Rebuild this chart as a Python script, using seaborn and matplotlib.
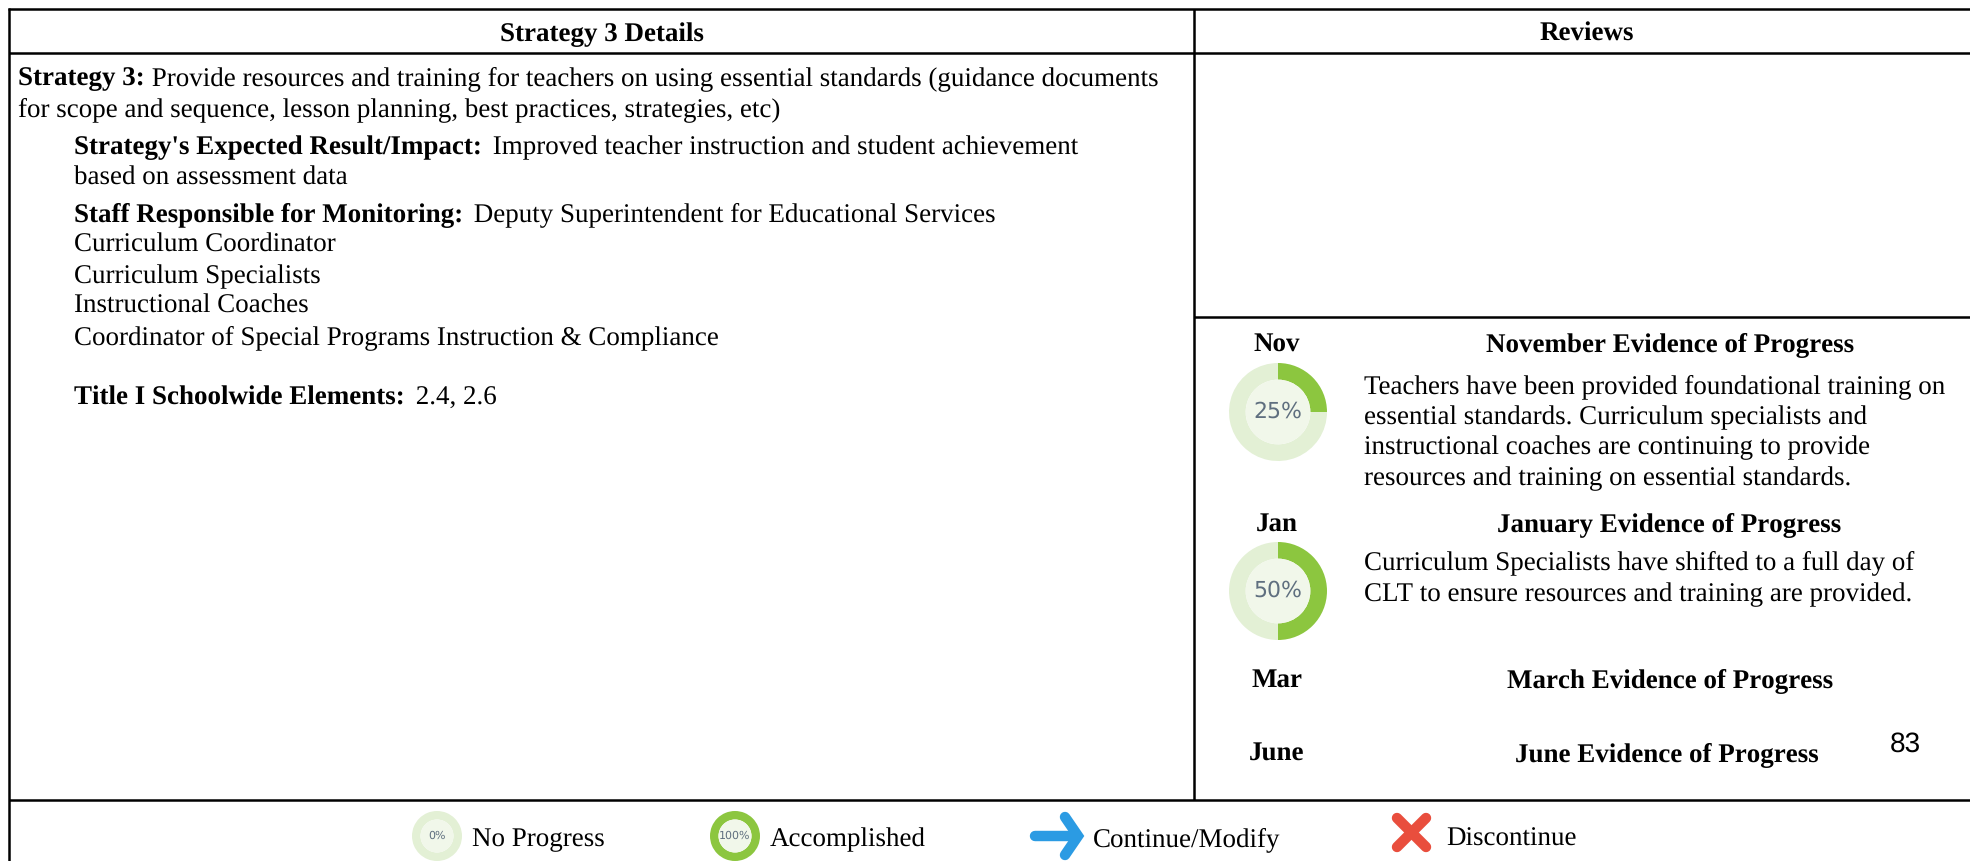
import matplotlib
matplotlib.use("Agg")
import matplotlib.pyplot as plt
import seaborn as sns

sns.set_theme(style="white")
plt.rcParams["font.family"] = ["Liberation Serif", "DejaVu Serif"]
plt.rcParams["text.color"] = "black"
plt.rcParams["text.hinting"] = "none"
plt.rcParams["text.hinting_factor"] = 1

header_labels = ["Strategy 3 Details", "Reviews"]
detail_lines = [
    ("Strategy 3:", " Provide resources and training for teachers on using essential standards (guidance documents", 18, 85),
    ("", "for scope and sequence, lesson planning, best practices, strategies, etc)", 18, 116),
    ("Strategy's Expected Result/Impact:", " Improved teacher instruction and student achievement", 74, 154),
    ("", "based on assessment data", 74, 185),
    ("Staff Responsible for Monitoring:", " Deputy Superintendent for Educational Services", 74, 221),
    ("", "Curriculum Coordinator", 74, 252),
    ("", "Curriculum Specialists", 74, 283),
    ("", "Instructional Coaches", 74, 313),
    ("", "Coordinator of Special Programs Instruction & Compliance", 74, 344),
    ("Title I Schoolwide Elements:", " 2.4, 2.6", 74, 405),
]
months = ["Nov", "Jan", "Mar", "June"]
evidence_titles = ["November Evidence of Progress", "January Evidence of Progress",
                   "March Evidence of Progress", "June Evidence of Progress"]
month_y = [351, 531, 687, 761]
title_x = [1670, 1669, 1670, 1667]
progress = [25, 50]
progress_y = [412, 591]
nov_text = ["Teachers have been provided foundational training on", "essential standards. Curriculum specialists and",
            "instructional coaches are continuing to provide", "resources and training on essential standards."]
nov_y = [393, 424, 454, 485]
jan_text = ["Curriculum Specialists have shifted to a full day of", "CLT to ensure resources and training are provided."]
jan_y = [569, 601]
legend_labels = ["No Progress", "Accomplished", "Continue/Modify", "Discontinue"]
legend_x = [472, 770, 1093, 1446]
legend_progress = [0, 100]
legend_icon_x = [437, 735]

W, H = 1970, 861
green = "#8cc63f"
pale = "#e3f0d5"
inner = "#f1f7ea"

fig = plt.figure(figsize=(W / 100, H / 100), dpi=100)
ax = fig.add_axes([0, 0, 1, 1])
ax.set_xlim(0, W)
ax.set_ylim(H, 0)
ax.axis("off")
fs = 19.5


def rule(x0, x1, y0, y1, lw=1.8):
    ax.plot([x0, x1], [y0, y1], color="black", lw=lw, solid_capstyle="butt")


rule(8, W, 9, 9)
rule(9, W, 53, 53)
rule(1194, W, 317, 317)
rule(9, W, 800, 800)
rule(9, 9, 8, H)
rule(1194, 1194, 9, 800)

ax.text(602, 41, header_labels[0], fontsize=fs, fontweight="bold", ha="center", va="baseline")
ax.text(1587, 41, header_labels[1], fontsize=fs, fontweight="bold", ha="center", va="baseline")

renderer = fig.canvas.get_renderer()
for bold, plain, x, y in detail_lines:
    if bold:
        t = ax.text(x, y, bold, fontsize=fs, fontweight="bold", va="baseline")
        end = ax.transData.inverted().transform(t.get_window_extent(renderer).max)[0]
        # the indented lines have a slightly wider gap after the bold part
        x = end + (4 if x > 18 else 0)
    ax.text(x, y, plain, fontsize=fs, va="baseline")


def donut(cx, cy, r, value, label, size):
    # pie is placed in data coordinates, y axis is flipped so go clockwise on screen
    sub = fig.add_axes([(cx - r) / W, 1 - (cy + r) / H, 2 * r / W, 2 * r / H])
    vals = [value, 100 - value] if 0 < value < 100 else [100]
    cols = [green, pale] if 0 < value < 100 else ([green] if value else [pale])
    sub.pie(vals, colors=cols, startangle=90, counterclock=False, radius=1,
            wedgeprops=dict(width=0.34, linewidth=0))
    sub.add_patch(plt.Circle((0, 0), 0.66, color=inner, lw=0))
    sub.set_xlim(-1, 1)
    sub.set_ylim(-1, 1)
    sub.text(0, 0, label, ha="center", va="center", fontsize=size, color="#5f6f7f", family="DejaVu Sans")


for m, title, my, tx in zip(months, evidence_titles, month_y, title_x):
    ax.text(1277, my, m, fontsize=fs, fontweight="bold", ha="center", va="baseline")
    ax.text(tx, my, title, fontsize=fs, fontweight="bold", ha="center", va="baseline")

for val, cy in zip(progress, progress_y):
    donut(1278, cy, 49, val, f"{val}%", 15.5)

for line, y in zip(nov_text, nov_y):
    ax.text(1364, y, line, fontsize=fs, va="baseline")
for line, y in zip(jan_text, jan_y):
    ax.text(1364, y, line, fontsize=fs, va="baseline")

ax.text(1905, 752, "83", fontsize=20, family="Liberation Sans", ha="center", va="baseline")

for val, x in zip(legend_progress, legend_icon_x):
    donut(x, 836, 25, val, f"{val}%", 7.8)

# arrow and cross icons of the legend
blue = "#2b9be3"
ax.plot([1035, 1076], [836, 836], color=blue, lw=7.5, solid_capstyle="round")
ax.plot([1065, 1078, 1065], [817, 836, 855], color=blue, lw=7.5, solid_capstyle="round", solid_joinstyle="miter")
red = "#e94e3d"
ax.plot([1397, 1426], [818, 847], color=red, lw=7.5, solid_capstyle="round")
ax.plot([1426, 1397], [818, 847], color=red, lw=7.5, solid_capstyle="round")

for lab, x in zip(legend_labels, legend_x):
    ax.text(x, 846, lab, fontsize=fs, va="baseline")

fig.savefig("out.png", dpi=100)
